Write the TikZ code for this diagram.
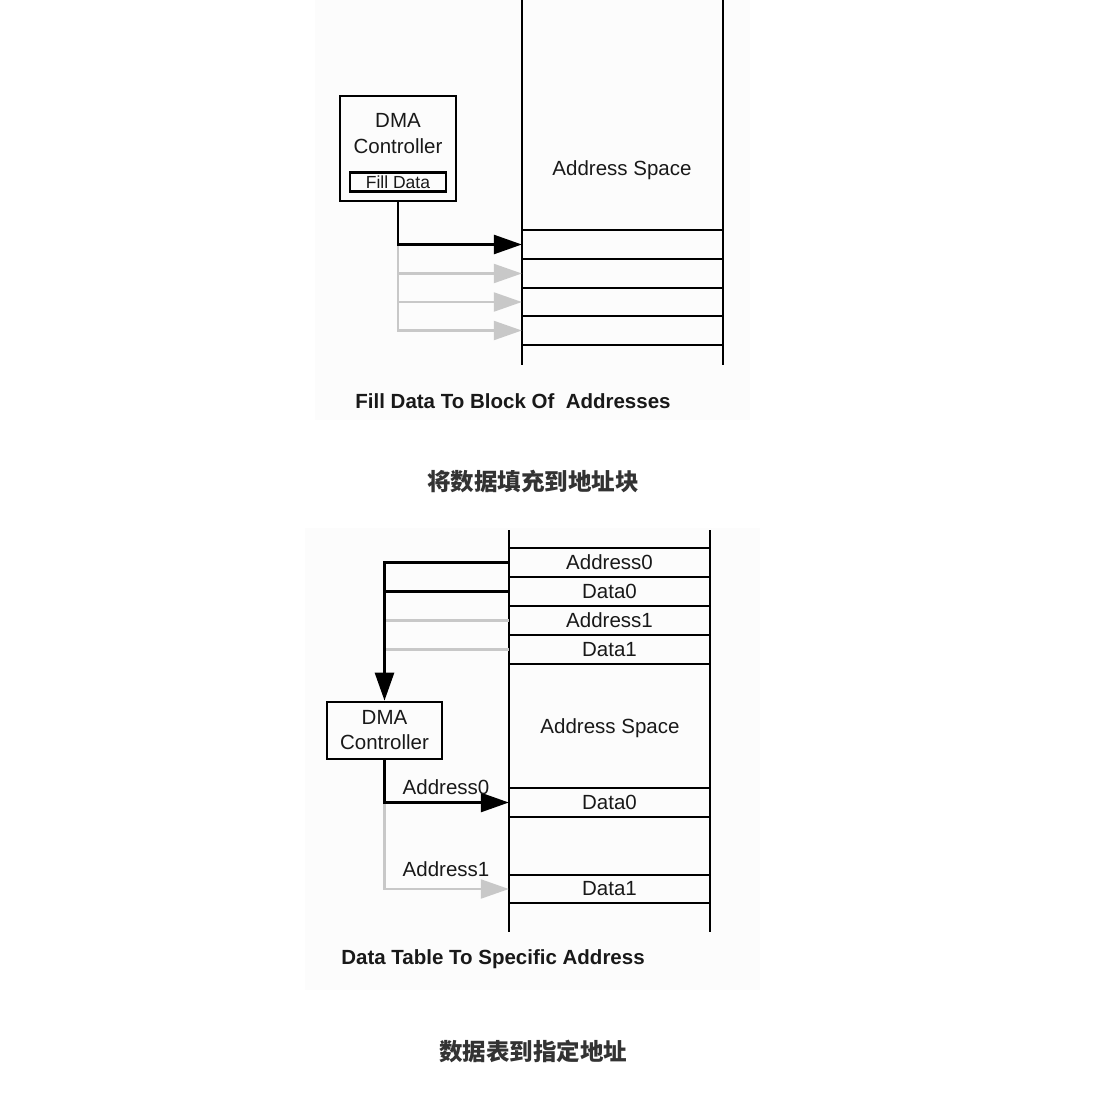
\documentclass[tikz,border=0pt]{standalone}
\usepackage{fontspec}
\setmainfont{Liberation Sans}
\newfontfamily\cjk{Noto Sans CJK SC}
\usetikzlibrary{arrows.meta}
\definecolor{lgray}{HTML}{C8C8C8}
\definecolor{cjkgray}{HTML}{333333}
\definecolor{bgpaper}{HTML}{FCFCFC}
\begin{document}
\begin{tikzpicture}[x=1pt,y=-1pt,
  blk/.style={line width=2.7pt, black},
  gry/.style={line width=2.2pt, lgray},
  bighead/.style={-{Triangle[length=28pt,width=19pt]}},
  greyhead/.style={-{Triangle[length=28pt,width=19pt,fill=lgray,color=lgray]}},
  lbl/.style={font=\fontsize{20.5}{25}\selectfont, inner sep=0pt, text=black!90},
  rowbox/.style={minimum width=201pt, minimum height=29pt, inner sep=0pt, font=\fontsize{20.5}{25}\selectfont, text=black!90},
  dmabox/.style={draw, line width=2.7pt, inner sep=0pt},
  captext/.style={font=\fontsize{20.5}{25}\selectfont\bfseries, inner sep=0pt, text=black!90},
  cjkcap/.style={font=\fontsize{23.5}{28}\selectfont\cjk\bfseries, inner sep=0pt, text=cjkgray}
]
\useasboundingbox[fill=white] (0,0) rectangle (1099,1099);
\fill[bgpaper] (315,0) rectangle (750,420);
\fill[bgpaper] (305,528) rectangle (760,990);

% ---------- top diagram ----------
\draw[blk] (522,0) -- (522,365);
\draw[blk] (723,0) -- (723,365);
\foreach \yy in {230,259,288,316,345} \draw[blk] (522,\yy) -- (723,\yy);
\node[lbl] (as1) at (622,170) {Address Space};
\node[rowbox] (r1) at (622.5,244.5) {};
\node[rowbox] (r2) at (622.5,273.5) {};
\node[rowbox] (r3) at (622.5,302) {};
\node[rowbox] (r4) at (622.5,330.5) {};

\node[dmabox, minimum width=116pt, minimum height=105pt] (dma1) at (398,148.5) {};
\node[lbl] (dmat1) at (398,120) {DMA};
\node[lbl] (ctl1) at (398,146) {Controller};
\node[dmabox, line width=2.4pt, minimum width=96pt, minimum height=19pt,
      font=\fontsize{17.5}{20}\selectfont, text=black!90] (fill) at (398,182) {Fill Data};

\coordinate (g0) at (dma1.south |- r1.west);
\draw[gry, greyhead] (g0) |- (r2.west);
\draw[gry, greyhead] (g0) |- (r3.west);
\draw[gry, greyhead] (g0) |- (r4.west);
\draw[blk, bighead] (dma1.south) |- (r1.west);

\node[captext] (cap1) at (513,401) {Fill Data To Block Of\ \ Addresses};
\node[cjkcap] (cjk1) at (533,482) {将数据填充到地址块};

% ---------- bottom diagram ----------
\draw[blk] (509,530) -- (509,932);
\draw[blk] (710,530) -- (710,932);
\foreach \yy in {548,577,606,635,664,788,817,875,903} \draw[blk] (509,\yy) -- (710,\yy);
\node[rowbox] (b1) at (609.5,562.5) {Address0};
\node[rowbox] (b2) at (609.5,591.5) {Data0};
\node[rowbox] (b3) at (609.5,620.5) {Address1};
\node[rowbox] (b4) at (609.5,649.5) {Data1};
\node[lbl] (as2) at (610,728) {Address Space};
\node[rowbox] (d0) at (609.5,802.5) {Data0};
\node[rowbox] (d1) at (609.5,889) {Data1};

\node[dmabox, minimum width=115pt, minimum height=57pt, align=center,
      font=\fontsize{20.5}{25}\selectfont, text=black!90] (dma2) at (384.5,730.5) {DMA\\Controller};

\draw[gry] (b3.west) -- (b3.west -| dma2.north);
\draw[gry] (b4.west) -- (b4.west -| dma2.north);
\draw[blk] (b2.west) -- (b2.west -| dma2.north);
\draw[blk, bighead] (b1.west) -| (dma2.north);

\coordinate (h0) at (dma2.south |- d0.west);
\draw[gry, greyhead] (h0) |- (d1.west);
\draw[blk, bighead] (dma2.south) |- (d0.west);
\node[lbl] (a0) at (446,787) {Address0};
\node[lbl] (a1) at (446,869) {Address1};

\node[captext] (cap2) at (493,959) {Data Table To Specific Address};
\node[cjkcap] (cjk2) at (533,1051) {数据表到指定地址};
\end{tikzpicture}
\end{document}
